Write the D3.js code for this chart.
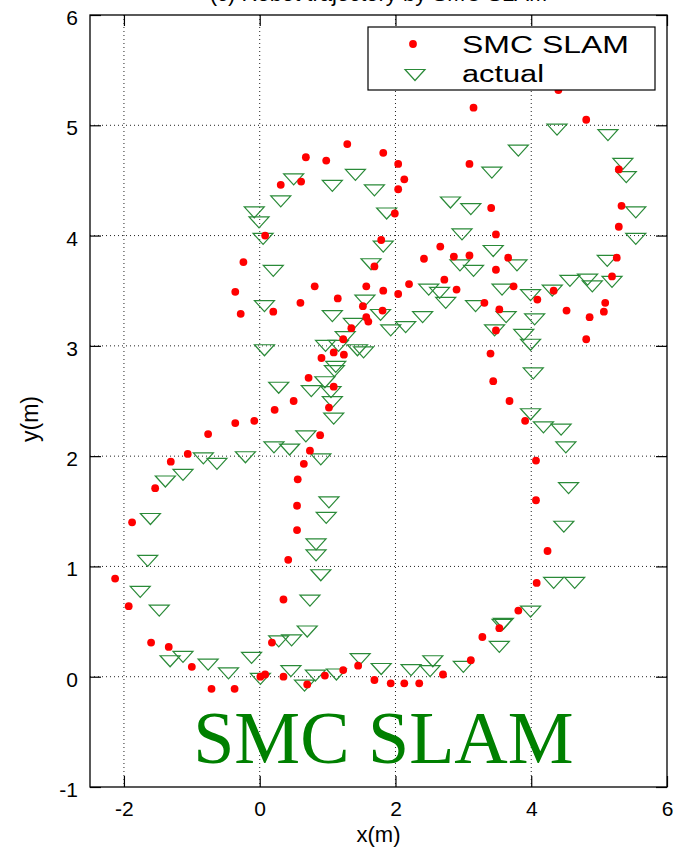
<!DOCTYPE html>
<html>
<head>
<meta charset="utf-8">
<script src="https://cdn.jsdelivr.net/npm/d3@7"></script>
<style>
  body { margin: 0; background: #fff; }
  svg { display: block; }
</style>
</head>
<body>
<div id="chart"></div>
<script>
// svg size
var svgWidth = 683;
var svgHeight = 851;

// axis ticks
var xTicks = [-2, 0, 2, 4, 6];
var yTicks = [-1, 0, 1, 2, 3, 4, 5, 6];

// SMC SLAM estimate (red dots)
var slamX = [-2.13, -1.93, -1.88, -1.60, -1.54, -1.34, -1.31, -1.06, -1.00, -0.76,
  -0.71, -0.37, -0.36, -0.08, 0.01, 0.08, 0.18, 0.22, 0.35, 0.35,
  0.42, 0.50, 0.55, 0.55, 0.56, 0.65, 0.70, 0.72, 0.74, 0.89,
  0.91, 0.96, 1.02, 1.09, 1.09, 1.23, 1.23, 1.24, 1.35, 1.45,
  1.52, 1.57, 1.57, 1.60, 1.69, 1.69, 1.15, 0.81, 0.60, 0.20,
  -0.28, -0.36, -0.24, 0.08, 0.31, 0.61, 0.68, 0.98, 1.29, 1.82,
  1.79, 1.82, 1.81, 2.04, 2.13, 2.04, 1.99, 3.15, 4.40, 4.81,
  3.09, 3.41, 5.29, 5.33, 5.29, 3.48, 2.66, 2.42, 2.86, 3.09,
  3.66, 5.26, 3.48, 2.72, 2.20, 2.04, 2.90, 3.74, 5.19, 4.33,
  4.09, 3.31, 3.53, 5.09, 5.07, 4.52, 4.86, 3.48, 4.81, 3.40,
  3.44, 3.68, 3.91, 4.07, 4.07, 4.24, 1.93, 2.13, 2.35, 2.70,
  3.11, 3.28, 3.53, 3.81, 4.08];
var slamY = [0.89, 0.64, 1.40, 0.31, 1.71, 0.27, 1.95, 2.02, 0.09, 2.20,
  -0.11, -0.11, 2.30, 2.32, 0.00, 0.02, 0.31, 2.42, 0.70, 0.00,
  1.06, 2.50, 1.33, 1.55, 1.79, 1.93, -0.07, 2.71, 2.05, 2.19,
  2.89, 0.01, 2.44, 2.63, 2.94, 3.06, 0.06, 2.92, 3.16, 0.10,
  3.36, 3.54, 3.26, 3.22, -0.03, 3.72, 3.43, 3.54, 3.39, 3.31,
  3.29, 3.49, 3.76, 4.00, 4.46, 4.49, 4.71, 4.68, 4.83, 4.75,
  3.96, 3.50, 3.32, 4.65, 4.51, 4.42, 4.20, 5.16, 5.32, 5.05,
  4.65, 4.25, 4.60, 4.27, 4.08, 4.01, 3.90, 3.79, 3.81, 3.82,
  3.80, 3.80, 3.69, 3.60, 3.56, 3.47, 3.51, 3.54, 3.63, 3.50,
  3.42, 3.39, 3.33, 3.39, 3.31, 3.32, 3.26, 3.14, 3.06, 2.93,
  2.68, 2.50, 2.32, 1.96, 1.60, 1.14, -0.06, -0.06, -0.06, 0.02,
  0.15, 0.36, 0.44, 0.60, 0.85];

// actual trajectory (green triangles)
var actualX = [-1.76, -1.48, -1.65, -1.61, -1.39, -1.13, -0.83, -0.63, -0.21, -1.32,
  -1.13, -0.76, -0.46, -0.12, 0.01, 0.28, 0.47, 0.70, 0.74, 0.90,
  0.46, 0.66, 0.82, 1.13, 1.48, 1.79, 2.23, 2.51, 2.55, 3.00,
  3.53, 3.57, 3.59, 3.99, 4.33, 4.64, 0.83, 0.83, 0.98, 1.02,
  0.07, 0.28, 0.76, 0.96, 1.10, 1.12, 1.05, 1.07, 1.09, 0.68,
  0.21, 0.44, 0.90, 0.97, 1.16, 1.44, 1.53, 1.26, 1.07, 1.38,
  1.55, 1.78, 1.93, 2.15, 2.40, 1.64, 1.82, 1.87, 1.69, 1.41,
  1.07, 0.50, 0.31, -0.08, -0.01, 0.05, 0.20, 0.07, 4.38, 5.13,
  3.81, 3.42, 5.35, 5.40, 2.81, 3.11, 5.54, 2.98, 5.54, 3.44,
  2.95, 3.15, 3.79, 5.12, 2.49, 2.65, 2.74, 3.18, 3.57, 3.99,
  4.31, 4.57, 4.83, 4.90, 5.19, 3.63, 4.05, 3.46, 3.89, 3.99,
  4.03, 3.99, 4.18, 4.44, 4.51, 4.55, 4.48];
var actualY = [0.77, 0.60, 1.05, 1.43, 1.77, 1.83, 1.98, 1.93, 1.99, 0.14,
  0.18, 0.11, 0.03, 0.17, -0.02, 0.32, 0.33, 0.41, 0.69, 0.92,
  0.05, -0.08, 0.01, 0.02, 0.16, 0.07, 0.06, 0.05, 0.14, 0.09,
  0.27, 0.47, 0.48, 0.59, 0.85, 0.85, 1.20, 1.10, 1.44, 1.58,
  2.96, 2.62, 2.59, 2.67, 2.77, 2.81, 2.58, 2.49, 2.34, 2.18,
  2.08, 2.06, 1.97, 3.00, 3.00, 2.96, 2.94, 3.08, 3.27, 3.20,
  3.41, 3.28, 3.14, 3.17, 3.26, 3.74, 3.90, 4.20, 4.41, 4.55,
  4.45, 4.51, 4.31, 4.21, 4.12, 3.97, 3.68, 3.36, 4.96, 4.91,
  4.77, 4.57, 4.65, 4.53, 4.30, 4.24, 4.21, 4.01, 3.97, 3.86,
  3.73, 3.68, 3.73, 3.77, 3.51, 3.48, 3.39, 3.36, 3.51, 3.46,
  3.50, 3.59, 3.60, 3.54, 3.58, 3.26, 3.24, 3.14, 3.10, 3.01,
  2.75, 2.38, 2.26, 2.24, 2.08, 1.71, 1.36];

var slamData = slamX.map((x, i) => ({x: x, y: slamY[i]}));
var actualData = actualX.map((x, i) => ({x: x, y: actualY[i]}));

// plot frame
var margin = {top: 15, right: 16, bottom: 64, left: 90};
var width = svgWidth - margin.left - margin.right;
var height = svgHeight - margin.top - margin.bottom;

var svg = d3.select("#chart").append("svg")
  .attr("width", svgWidth)
  .attr("height", svgHeight);

var chartGroup = svg.append("g")
  .attr("transform", `translate(${margin.left}, ${margin.top})`);

var xScale = d3.scaleLinear().domain([-2.5, 6]).range([0, width]);
var yScale = d3.scaleLinear().domain([-1, 6]).range([height, 0]);

var font = "'Liberation Sans', Arial, Helvetica, sans-serif";

// dotted grid
chartGroup.append("g")
  .selectAll("line.gx")
  .data(xTicks.filter(d => d > -2.5 && d < 6))
  .enter().append("line")
  .attr("x1", d => xScale(d)).attr("x2", d => xScale(d))
  .attr("y1", 0).attr("y2", height)
  .attr("stroke", "#222").attr("stroke-width", 1)
  .attr("stroke-dasharray", "1,3");
chartGroup.append("g")
  .selectAll("line.gy")
  .data(yTicks.filter(d => d > -1 && d < 6))
  .enter().append("line")
  .attr("y1", d => yScale(d)).attr("y2", d => yScale(d))
  .attr("x1", 0).attr("x2", width)
  .attr("stroke", "#222").attr("stroke-width", 1)
  .attr("stroke-dasharray", "1,3");

// axes with inward ticks (matlab style)
var tickLen = 11;
var bottomAxis = d3.axisBottom(xScale).tickValues(xTicks).tickSize(-tickLen).tickPadding(14).tickFormat(d3.format("d"));
var leftAxis = d3.axisLeft(yScale).tickValues(yTicks).tickSize(-tickLen).tickPadding(12).tickFormat(d3.format("d"));
var topAxis = d3.axisTop(xScale).tickValues(xTicks).tickSize(-tickLen).tickFormat("");
var rightAxis = d3.axisRight(yScale).tickValues(yTicks).tickSize(-tickLen).tickFormat("");

function styleAxis(g) {
  g.select(".domain").remove();
  g.selectAll("line").attr("stroke", "#000").attr("stroke-width", 1.2);
  g.selectAll("text").attr("fill", "#000").style("font-family", font).style("font-size", "21px");
}

chartGroup.append("g").attr("transform", `translate(0, ${height})`).call(bottomAxis).call(styleAxis)
  .selectAll("text").text(d => d < 0 ? "-" + Math.abs(d) : d);
chartGroup.append("g").call(leftAxis).call(styleAxis)
  .selectAll("text").attr("dy", "0.45em").text(d => d < 0 ? "-" + Math.abs(d) : d);
chartGroup.append("g").call(topAxis).call(styleAxis);
chartGroup.append("g").attr("transform", `translate(${width}, 0)`).call(rightAxis).call(styleAxis);

// frame
chartGroup.append("rect")
  .attr("width", width).attr("height", height)
  .attr("fill", "none").attr("stroke", "#000").attr("stroke-width", 1.3);

// big label
chartGroup.append("text")
  .attr("x", xScale(-0.98))
  .attr("y", yScale(-0.78))
  .style("font-family", "'Liberation Serif', 'Times New Roman', serif")
  .style("font-size", "74px")
  .attr("fill", "#008000")
  .text("SMC SLAM");

// triangles
var tri = "M-10,-5.5L10,-5.5L0,5.5Z";
chartGroup.selectAll("path.actual")
  .data(actualData)
  .enter().append("path")
  .classed("actual", true)
  .attr("d", tri)
  .attr("transform", d => `translate(${xScale(d.x)}, ${yScale(d.y)})`)
  .attr("fill", "none")
  .attr("stroke", "#2a8a38")
  .attr("stroke-width", 1.2);

// red dots
chartGroup.selectAll("circle.slam")
  .data(slamData)
  .enter().append("circle")
  .classed("slam", true)
  .attr("cx", d => xScale(d.x))
  .attr("cy", d => yScale(d.y))
  .attr("r", 3.9)
  .attr("fill", "#ff0000");

// legend
var legend = svg.append("g").attr("transform", "translate(368, 27)");
legend.append("rect")
  .attr("width", 287).attr("height", 63)
  .attr("fill", "#fff").attr("stroke", "#000").attr("stroke-width", 1.2);
legend.append("circle").attr("cx", 45).attr("cy", 17).attr("r", 3.9).attr("fill", "#ff0000");
legend.append("path").attr("d", tri).attr("transform", "translate(47, 48)")
  .attr("fill", "none").attr("stroke", "#2a8a38").attr("stroke-width", 1.2);
legend.append("text").attr("x", 94).attr("y", 26)
  .attr("textLength", 167).attr("lengthAdjust", "spacingAndGlyphs")
  .style("font-family", font).style("font-size", "23px").text("SMC SLAM");
legend.append("text").attr("x", 94).attr("y", 55)
  .attr("textLength", 82).attr("lengthAdjust", "spacingAndGlyphs")
  .style("font-family", font).style("font-size", "23px").text("actual");

// axis labels
svg.append("text")
  .attr("x", margin.left + width / 2)
  .attr("y", 842)
  .attr("text-anchor", "middle")
  .style("font-family", font).style("font-size", "22px")
  .text("x(m)");
svg.append("text")
  .attr("transform", "rotate(-90)")
  .attr("x", -419)
  .attr("y", 38)
  .attr("text-anchor", "middle")
  .style("font-family", font).style("font-size", "23px")
  .text("y(m)");

// title, mostly cut off at the top of the picture (as in the reference)
svg.append("text")
  .attr("x", margin.left + width / 2)
  .attr("y", 1)
  .attr("text-anchor", "middle")
  .style("font-family", font).style("font-size", "22px")
  .text("(c) Robot trajectory by SMC SLAM");
</script>
</body>
</html>
